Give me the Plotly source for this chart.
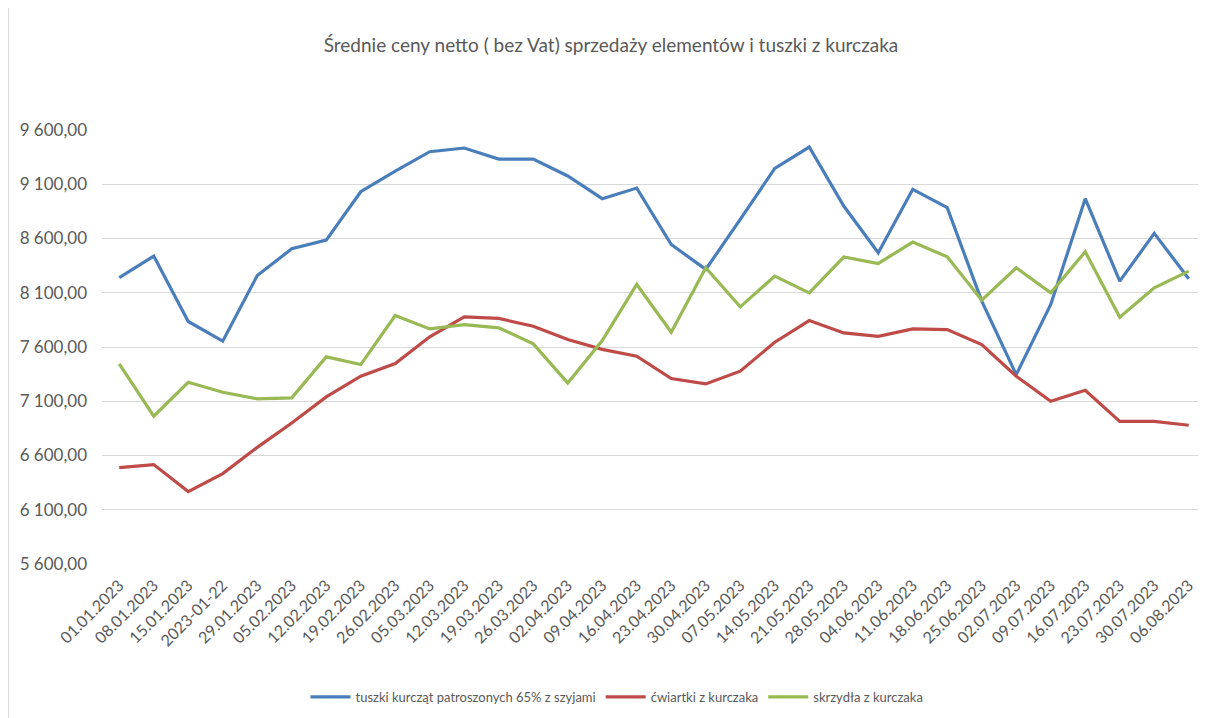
import plotly.graph_objects as go

dates = ["01.01.2023", "08.01.2023", "15.01.2023", "2023-01-22", "29.01.2023", "05.02.2023",
         "12.02.2023", "19.02.2023", "26.02.2023", "05.03.2023", "12.03.2023", "19.03.2023",
         "26.03.2023", "02.04.2023", "09.04.2023", "16.04.2023", "23.04.2023", "30.04.2023",
         "07.05.2023", "14.05.2023", "21.05.2023", "28.05.2023", "04.06.2023", "11.06.2023",
         "18.06.2023", "25.06.2023", "02.07.2023", "09.07.2023", "16.07.2023", "23.07.2023",
         "30.07.2023", "06.08.2023"]

tuszki = [8240, 8438, 7835, 7654, 8259, 8505, 8585, 9031, 9222, 9400, 9434, 9332,
          9332, 9176, 8967, 9065, 8545, 8315, 8776, 9246, 9443, 8899, 8468, 9053,
          8884, 8023, 7346, 7992, 8967, 8207, 8647, 8229]

cwiartki = [6488, 6516, 6267, 6433, 6675, 6900, 7140, 7331, 7448, 7694, 7878, 7863,
            7792, 7669, 7578, 7515, 7309, 7260, 7377, 7644, 7844, 7730, 7699, 7767,
            7761, 7623, 7331, 7100, 7201, 6915, 6915, 6879]

skrzydla = [7444, 6962, 7275, 7183, 7122, 7131, 7509, 7438, 7890, 7767, 7807, 7777,
            7629, 7269, 7660, 8176, 7737, 8330, 7970, 8253, 8099, 8429, 8370, 8567,
            8431, 8032, 8330, 8099, 8478, 7875, 8146, 8299]

y_ticks = [5600, 6100, 6600, 7100, 7600, 8100, 8600, 9100, 9600]
y_tick_labels = ["5 600,00", "6 100,00", "6 600,00", "7 100,00", "7 600,00",
                 "8 100,00", "8 600,00", "9 100,00", "9 600,00"]

names = ["tuszki kurcząt patroszonych 65% z szyjami", "ćwiartki z kurczaka", "skrzydła z kurczaka"]
colors = ["#4A7EBB", "#BE4B48", "#98B954"]

FONT = "Lato, Open Sans, sans-serif"

fig = go.Figure()
for name, vals, col in zip(names, [tuszki, cwiartki, skrzydla], colors):
    fig.add_trace(go.Scatter(x=dates, y=vals, mode="lines", name=name,
                             line=dict(color=col, width=3.2)))

# page body has an 8px margin; work in page pixels and convert
OFF = 8
W, H = 1206 - OFF, 718 - OFF
L, R, T, B = 102 - OFF, 0, 130 - OFF, 718 - 564
pw = W - L - R
ph = H - T - B

def px_x(x):
    return (x - OFF - L) / pw

def px_y(y):
    return (H - B - (y - OFF)) / ph

fig.add_shape(type="line", xref="paper", yref="paper",
              x0=px_x(8.5), x1=px_x(8.5), y0=px_y(0), y1=px_y(718),
              line=dict(color="#D9D9D9", width=1), layer="below")

fig.update_layout(
    width=W, height=H,
    margin=dict(l=L, r=R, t=T, b=B),
    paper_bgcolor="white", plot_bgcolor="white",
    font=dict(family=FONT, color="#595959"),
    title=dict(text="Średnie ceny netto ( bez Vat) sprzedaży elementów i tuszki z kurczaka",
               x=px_x(611), xref="paper", xanchor="center", y=1 - (45 - OFF) / H, yanchor="middle",
               font=dict(size=19, color="#595959", family=FONT)),
    xaxis=dict(type="category", range=[-0.5, 31.5], tickangle=-45, showgrid=False,
               showline=False, ticks="", ticklabelstandoff=8,
               tickfont=dict(size=16, color="#595959")),
    yaxis=dict(range=[5600, 9600], tickvals=y_ticks, ticktext=y_tick_labels,
               showgrid=True, gridcolor="#D9D9D9", gridwidth=1, zeroline=False,
               showline=False, ticks="", ticklabelstandoff=14,
               tickfont=dict(size=17, color="#595959")),
    legend=dict(orientation="h", x=px_x(617), xanchor="center", y=px_y(697), yanchor="middle",
                font=dict(size=13, color="#595959"), itemwidth=40, traceorder="normal"),
    showlegend=True,
)

fig.write_html("out.html")
